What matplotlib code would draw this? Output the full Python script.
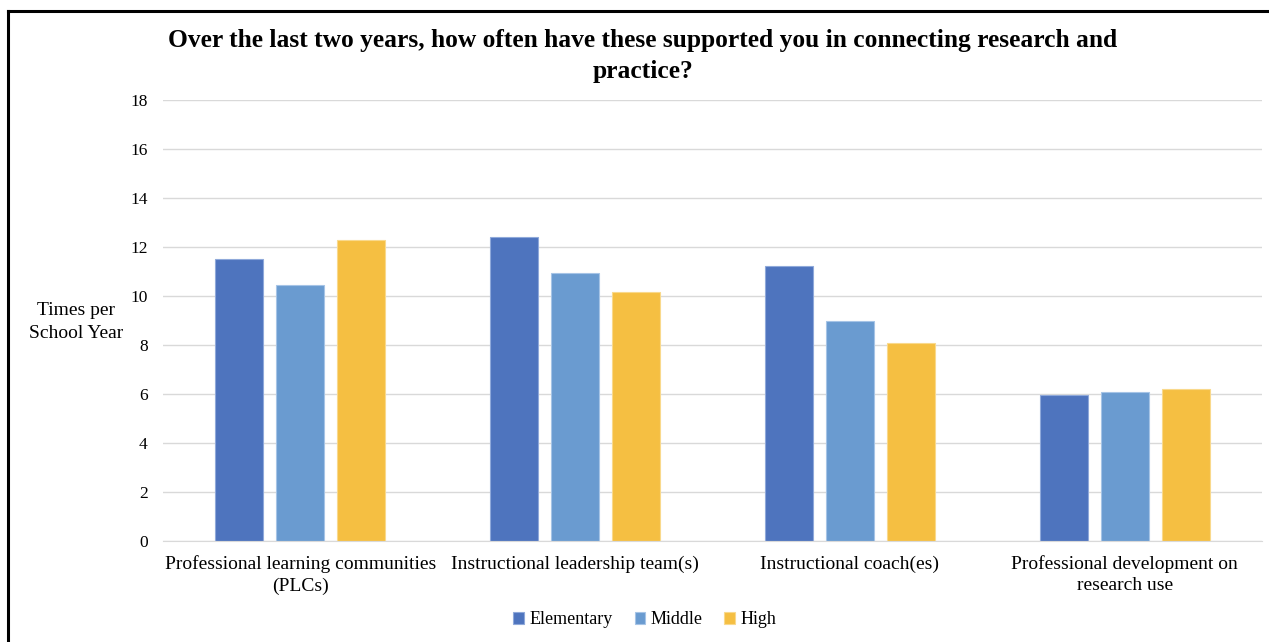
import matplotlib.pyplot as plt
import numpy as np
from matplotlib.lines import Line2D

categories = [
    "Professional learning communities\n(PLCs)",
    "Instructional leadership team(s)",
    "Instructional coach(es)",
    "Professional development on\nresearch use",
]
series_names = ["Elementary", "Middle", "High"]
elementary = [11.49, 12.42, 11.22, 5.96]
middle = [10.44, 10.95, 9.00, 6.08]
high = [12.27, 10.16, 8.07, 6.22]

colors = ["#4E74BE", "#6A9BD0", "#F5BF42"]
edges = ["#8FA9DA", "#A6C4E6", "#F9D98C"]

plt.rcParams["font.family"] = ["Liberation Serif", "DejaVu Serif"]

fig = plt.figure(figsize=(12.69, 6.42), dpi=100)
ax = fig.add_axes([163 / 1269, 1 - 541 / 642, 1099 / 1269, 441 / 642])

x = np.arange(len(categories))
step = 0.222
width = 0.175
for i, (name, values) in enumerate(zip(series_names, [elementary, middle, high])):
    ax.bar(x + (i - 1) * step, values, width, color=colors[i], edgecolor=edges[i],
           linewidth=0.8, label=name, zorder=2)

ax.set_xlim(-0.5, len(categories) - 0.5)
ax.set_ylim(0, 18)
ax.set_yticks(range(0, 19, 2))
ax.set_xticks(x)
ax.set_xticklabels(categories, fontsize=14, linespacing=1.3)
ax.tick_params(axis="y", length=0, pad=11, labelsize=12.5)
ax.tick_params(axis="x", length=0, pad=10.5)
ax.grid(axis="y", color="#D9D9D9", linewidth=1, zorder=0)
for side in ["top", "right", "left"]:
    ax.spines[side].set_visible(False)
ax.spines["bottom"].set_color("#D9D9D9")

fig.text(76 / 1269, 1 - 322 / 642, "Times per\nSchool Year", ha="center", va="center",
         fontsize=14, linespacing=1.42)

fig.text(643 / 1269, 1 - 56 / 642,
         "Over the last two years, how often have these supported you in connecting research and\npractice?",
         ha="center", va="center", fontsize=18.4, fontweight="bold", linespacing=1.42)

fig.legend(loc="center", bbox_to_anchor=(645 / 1269, 1 - 620 / 642), ncol=3, frameon=False,
           fontsize=13, handlelength=0.6, handleheight=0.6, handletextpad=0.3,
           columnspacing=1.2)

# page frame (cut off on the right and bottom)
fig.add_artist(Line2D([7.5 / 1269, 1], [1 - 11 / 642] * 2, color="black", linewidth=2.2,
                      transform=fig.transFigure))
fig.add_artist(Line2D([7.5 / 1269] * 2, [0, 1 - 11 / 642], color="black", linewidth=2.2,
                      transform=fig.transFigure))

fig.savefig("out.png", dpi=100)
